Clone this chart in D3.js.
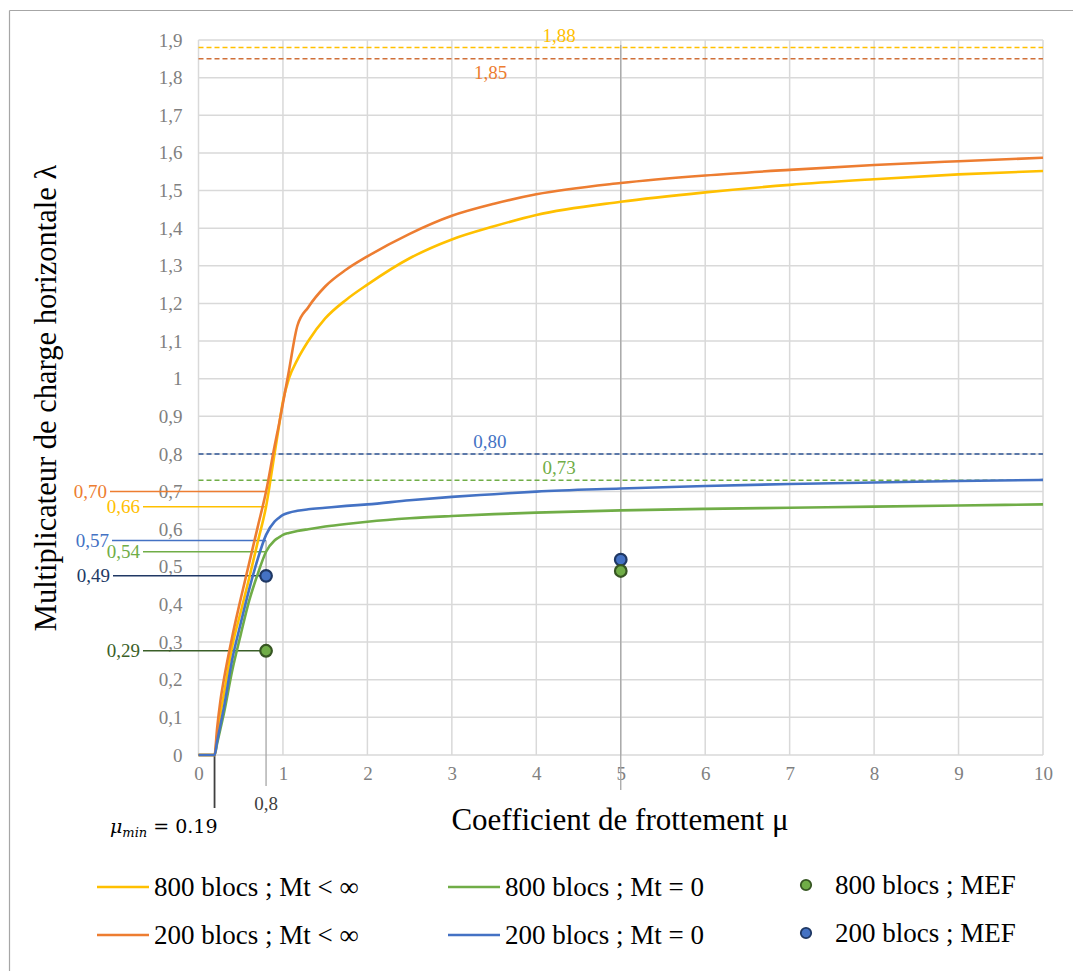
<!DOCTYPE html>
<html>
<head>
<meta charset="utf-8">
<script src="https://cdn.jsdelivr.net/npm/d3@7"></script>
<style>
  html, body { margin: 0; padding: 0; background: #fff; }
  svg { display: block; }
  text { font-family: "Liberation Serif", "DejaVu Serif", serif; }
</style>
</head>
<body>
<svg id="chart" width="1073" height="971"></svg>
<script>
// ---------- data ----------
const mu = [0, 0.19, 0.22, 0.26, 0.3, 0.4, 0.5, 0.6, 0.7, 0.8, 0.9, 0.95, 1.0, 1.07, 1.17, 1.3, 1.5, 1.75, 2, 2.5, 3, 3.5, 4, 5, 6, 7, 8, 9, 10];
const lambda800Inf = [0, 0, 0.05, 0.11, 0.16, 0.29, 0.38, 0.47, 0.565, 0.66, 0.80, 0.87, 0.94, 1.0, 1.05, 1.10, 1.16, 1.21, 1.25, 1.32, 1.37, 1.405, 1.435, 1.47, 1.495, 1.515, 1.53, 1.543, 1.552];
const lambda200Inf = [0, 0, 0.07, 0.145, 0.2, 0.315, 0.415, 0.51, 0.605, 0.70, 0.82, 0.875, 0.935, 1.02, 1.14, 1.19, 1.245, 1.29, 1.325, 1.385, 1.433, 1.465, 1.49, 1.52, 1.54, 1.555, 1.568, 1.578, 1.587];
const lambda800Zero = [0, 0, 0.03, 0.07, 0.11, 0.225, 0.32, 0.41, 0.48, 0.54, 0.57, 0.578, 0.585, 0.59, 0.595, 0.60, 0.607, 0.614, 0.62, 0.629, 0.635, 0.64, 0.644, 0.65, 0.654, 0.657, 0.66, 0.663, 0.666];
const lambda200Zero = [0, 0, 0.035, 0.08, 0.125, 0.255, 0.35, 0.44, 0.52, 0.585, 0.62, 0.63, 0.638, 0.644, 0.649, 0.653, 0.657, 0.662, 0.666, 0.677, 0.686, 0.693, 0.70, 0.708, 0.715, 0.72, 0.724, 0.728, 0.731];

const mefMu = [0.8, 5];
const mef800 = [0.277, 0.489];
const mef200 = [0.476, 0.519];

const xTicks = [0, 1, 2, 3, 4, 5, 6, 7, 8, 9, 10];
const yTicks = [0, 0.1, 0.2, 0.3, 0.4, 0.5, 0.6, 0.7, 0.8, 0.9, 1.0, 1.1, 1.2, 1.3, 1.4, 1.5, 1.6, 1.7, 1.8, 1.9];

const limitValues = [1.88, 1.85, 0.80, 0.73];
const limitLabels = ["1,88", "1,85", "0,80", "0,73"];
const limitLabelMu = [4.27, 3.46, 3.45, 4.27];

const leftValues = [0.70, 0.66, 0.57, 0.54, 0.476, 0.277];
const leftLabels = ["0,70", "0,66", "0,57", "0,54", "0,49", "0,29"];

const seriesNames = ["800 blocs ; Mt < ∞", "200 blocs ; Mt < ∞", "800 blocs ; Mt = 0", "200 blocs ; Mt = 0", "800 blocs ; MEF", "200 blocs ; MEF"];

// ---------- layout ----------
const svg = d3.select("#chart");
const x = d3.scaleLinear().domain([0, 10]).range([198.5, 1043]);
const y = d3.scaleLinear().domain([0, 1.9]).range([755, 40]);

const C = {
  yellow: "#FFC000", orange: "#ED7D31", green: "#70AD47", blue: "#4472C4",
  grid: "#D9D9D9", tick: "#808080"
};

// outer frame (top and left edges visible)
svg.append("line").attr("x1", 9.5).attr("x2", 1073).attr("y1", 10.5).attr("y2", 10.5).attr("stroke", "#A6A6A6").attr("stroke-width", 1.2);
svg.append("line").attr("x1", 9.5).attr("x2", 9.5).attr("y1", 10.5).attr("y2", 971).attr("stroke", "#A6A6A6").attr("stroke-width", 1.2);

// gridlines
const g = svg.append("g");
g.selectAll(".gx").data(xTicks).join("line")
  .attr("x1", d => x(d)).attr("x2", d => x(d)).attr("y1", y(0)).attr("y2", y(1.9))
  .attr("stroke", C.grid).attr("stroke-width", 1.5);
g.selectAll(".gy").data(yTicks).join("line")
  .attr("x1", x(0)).attr("x2", x(10)).attr("y1", d => y(d)).attr("y2", d => y(d))
  .attr("stroke", C.grid).attr("stroke-width", 1.5);

// axes via d3
const xAxis = d3.axisBottom(x).tickValues(xTicks).tickSize(0).tickPadding(12).tickFormat(d => String(d));
const yAxis = d3.axisLeft(y).tickValues(yTicks).tickSize(0).tickPadding(16)
  .tickFormat(d => d3.format(".1~f")(d).replace(".", ","));
const gx = svg.append("g").attr("transform", `translate(0,${y(0)})`).call(xAxis);
const gy = svg.append("g").attr("transform", `translate(${x(0)},0)`).call(yAxis);
[gx, gy].forEach(a => {
  a.attr("font-family", null).attr("font-size", null);
  a.select(".domain").remove();
  a.selectAll("text").attr("fill", C.tick).style("font-size", "19px").style("font-family", "'Liberation Serif', serif");
});

// limit dashed lines
const limColors = ["#FFC000", "#D0703A", "#2F5597", "#70AD47"];
const labColors = ["#FFC000", "#ED7D31", "#4472C4", "#70AD47"];
limitValues.forEach((v, i) => {
  svg.append("line").attr("x1", x(0)).attr("x2", x(10)).attr("y1", y(v)).attr("y2", y(v))
    .attr("stroke", limColors[i]).attr("stroke-width", 1.5).attr("stroke-dasharray", "5,3");
  const above = (i === 0 || i === 2 || i === 3);
  svg.append("text").attr("x", x(limitLabelMu[i])).attr("y", above ? y(v) - 6 : y(v) + 20)
    .attr("text-anchor", "middle").attr("fill", labColors[i]).style("font-size", "19px").text(limitLabels[i]);
});

// vertical reference lines
svg.append("line").attr("x1", x(5)).attr("x2", x(5)).attr("y1", 45).attr("y2", 790)
  .attr("stroke", "#A6A6A6").attr("stroke-width", 1.3);
svg.append("line").attr("x1", x(0.8)).attr("x2", x(0.8)).attr("y1", y(0.57)).attr("y2", 786)
  .attr("stroke", "#A6A6A6").attr("stroke-width", 1.3);
svg.append("line").attr("x1", x(0.19)).attr("x2", x(0.19)).attr("y1", y(0)).attr("y2", 808)
  .attr("stroke", "#404040").attr("stroke-width", 1.8);
svg.append("text").attr("x", x(0.8)).attr("y", 810).attr("text-anchor", "middle")
  .attr("fill", "#404040").style("font-size", "19px").text("0,8");

// mu_min label
const mm = svg.append("text").attr("x", 110).attr("y", 833).attr("fill", "#000")
  .style("font-family", "'DejaVu Serif', serif").style("font-size", "19px");
mm.append("tspan").style("font-style", "italic").text("μ");
mm.append("tspan").attr("dy", 4).style("font-style", "italic").style("font-size", "13px").text("min");
mm.append("tspan").attr("dy", -4).text(" = 0.19");

// left annotation lines
const leftColors = ["#ED7D31", "#FFC000", "#4472C4", "#70AD47", "#203864", "#3A5F28"];
const leftLineStart = [110, 143, 112, 143, 113, 143];
leftValues.forEach((v, i) => {
  svg.append("line").attr("x1", leftLineStart[i]).attr("x2", x(0.8)).attr("y1", y(v)).attr("y2", y(v))
    .attr("stroke", leftColors[i]).attr("stroke-width", 1.5);
  svg.append("text").attr("x", leftLineStart[i] - 3).attr("y", y(v) + 6).attr("text-anchor", "end")
    .attr("fill", leftColors[i]).style("font-size", "19px").text(leftLabels[i]);
});

// curves
const line = d3.line().x(d => x(d[0])).y(d => y(d[1])).curve(d3.curveMonotoneX);
const series = [
  { vals: lambda800Zero, color: C.green },
  { vals: lambda800Inf, color: C.yellow },
  { vals: lambda200Inf, color: C.orange },
  { vals: lambda200Zero, color: C.blue }
];
series.forEach(s => {
  svg.append("path").datum(mu.map((m, i) => [m, s.vals[i]]))
    .attr("d", line).attr("fill", "none").attr("stroke", s.color)
    .attr("stroke-width", 2.6).attr("stroke-linejoin", "round");
});

// MEF points
svg.selectAll(".m200").data(mefMu.map((m, i) => [m, mef200[i]])).join("circle")
  .attr("cx", d => x(d[0])).attr("cy", d => y(d[1])).attr("r", 5.8)
  .attr("fill", C.blue).attr("stroke", "#1F3864").attr("stroke-width", 2.2);
svg.selectAll(".m800").data(mefMu.map((m, i) => [m, mef800[i]])).join("circle")
  .attr("cx", d => x(d[0])).attr("cy", d => y(d[1])).attr("r", 5.8)
  .attr("fill", C.green).attr("stroke", "#375623").attr("stroke-width", 2.2);

// axis titles
svg.append("text").attr("x", 620).attr("y", 830).attr("text-anchor", "middle")
  .attr("fill", "#000").style("font-size", "31px").text("Coefficient de frottement μ");
svg.append("text").attr("transform", "translate(56,398) rotate(-90)").attr("text-anchor", "middle")
  .attr("fill", "#000").style("font-size", "30.5px").text("Multiplicateur de charge horizontale λ");

// legend
const legend = [
  { name: seriesNames[0], color: C.yellow, type: "line", lx: 97, ly: 887 },
  { name: seriesNames[1], color: C.orange, type: "line", lx: 97, ly: 935 },
  { name: seriesNames[2], color: C.green, type: "line", lx: 448, ly: 887 },
  { name: seriesNames[3], color: C.blue, type: "line", lx: 448, ly: 935 },
  { name: seriesNames[4], color: C.green, stroke: "#375623", type: "dot", lx: 806, ly: 887 },
  { name: seriesNames[5], color: C.blue, stroke: "#1F3864", type: "dot", lx: 806, ly: 935 }
];
legend.forEach(l => {
  if (l.type === "line") {
    svg.append("line").attr("x1", l.lx).attr("x2", l.lx + 52).attr("y1", l.ly).attr("y2", l.ly)
      .attr("stroke", l.color).attr("stroke-width", 2.6);
    svg.append("text").attr("x", l.lx + 57).attr("y", l.ly + 9).attr("fill", "#000")
      .style("font-size", "27px").text(l.name);
  } else {
    svg.append("circle").attr("cx", l.lx).attr("cy", l.ly - 2).attr("r", 5.2)
      .attr("fill", l.color).attr("stroke", l.stroke).attr("stroke-width", 1.8);
    svg.append("text").attr("x", l.lx + 29).attr("y", l.ly + 7).attr("fill", "#000")
      .style("font-size", "27px").text(l.name);
  }
});
</script>
</body>
</html>
